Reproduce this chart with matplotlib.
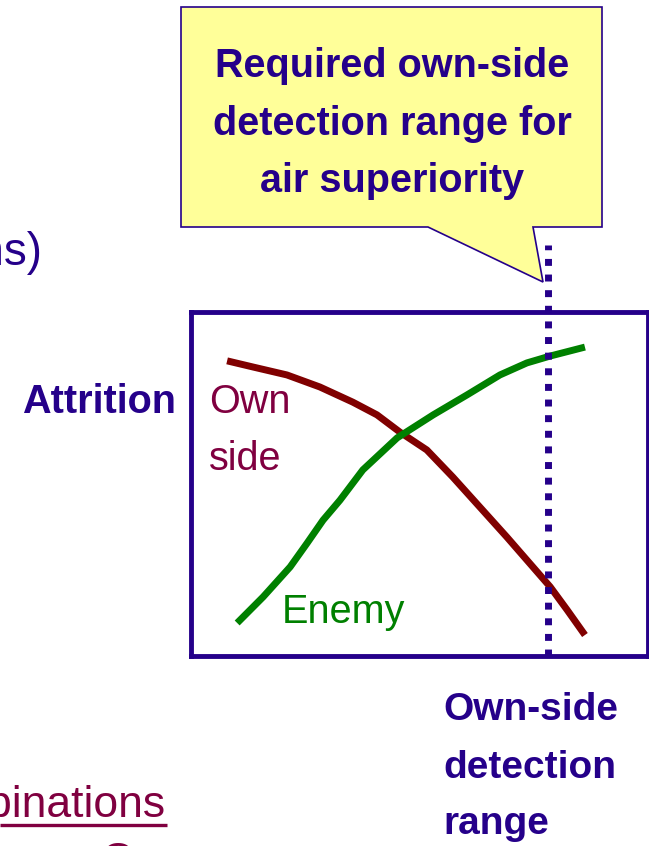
import matplotlib
matplotlib.use('Agg')
import matplotlib.pyplot as plt
from matplotlib.patches import Polygon

# Data: attrition vs own-side detection range (arbitrary 0-10 units)
own_range = [0.79, 1.36, 2.10, 2.82, 3.54, 4.07, 4.57, 5.16, 5.73, 6.32, 6.91, 7.48, 7.86, 8.23, 8.62]
own_attrition = [8.58, 8.40, 8.17, 7.82, 7.38, 7.01, 6.51, 5.99, 5.20, 4.33, 3.46, 2.59, 2.01, 1.34, 0.61]

enemy_range = [1.01, 1.58, 2.17, 2.54, 2.89, 3.26, 3.76, 4.51, 5.30, 6.04, 6.76, 7.35, 7.86, 8.62]
enemy_attrition = [0.96, 1.72, 2.59, 3.28, 3.95, 4.53, 5.41, 6.34, 7.01, 7.59, 8.17, 8.52, 8.72, 8.98]

required_range = 7.81

# Colours
indigo = '#25008a'
maroon = '#800000'
plum = '#800040'
green = '#008000'

font = ['Liberation Sans', 'DejaVu Sans']
big = 28.5

fig = plt.figure(figsize=(6.49, 8.46), dpi=100)

# overlay for annotations in pixel units
over = fig.add_axes([0, 0, 1, 1])
over.set_xlim(0, 649)
over.set_ylim(846, 0)
over.axis('off')

# boxed chart
ax = fig.add_axes([191 / 649, 190 / 846, 457 / 649, 344 / 846])
ax.set_facecolor('none')
ax.set_xlim(0, 10)
ax.set_ylim(0, 10)
ax.set_xticks([])
ax.set_yticks([])
for s in ax.spines.values():
    s.set_color(indigo)
    s.set_linewidth(3.5)

ax.plot(own_range, own_attrition, color=maroon, lw=5, solid_capstyle='butt', solid_joinstyle='round')
ax.plot(enemy_range, enemy_attrition, color=green, lw=5, solid_capstyle='butt', solid_joinstyle='round')
ax.plot([required_range, required_range], [0, 11.95], color=indigo, lw=5,
        dashes=(1, 1.25), dash_capstyle='butt', clip_on=False, zorder=5)

# callout
callout = Polygon([(181, 7), (602, 7), (602, 227), (533, 227), (543, 282), (428, 227), (181, 227)],
                  closed=True, facecolor='#ffff99', edgecolor=indigo, lw=1.2)
over.add_patch(callout)
for txt, y in [('Required own-side', 77), ('detection range for', 135), ('air superiority', 192)]:
    over.text(392, y, txt, color=indigo, fontsize=big, family=font,
              weight='bold', ha='center', va='baseline')

over.text(176, 413, 'Attrition', color=indigo, fontsize=big, family=font,
          weight='bold', ha='right', va='baseline')
over.text(209, 413, 'Own', color=plum, fontsize=big, family=font, va='baseline')
over.text(209, 470, 'side', color=plum, fontsize=big, family=font, va='baseline')
over.text(282, 623, 'Enemy', color=green, fontsize=big, family=font, va='baseline')

for txt, y in [('Own-side', 720), ('detection', 778), ('range', 834)]:
    over.text(443, y, txt, color=indigo, fontsize=28, family=font,
              weight='bold', ha='left', va='baseline')

# cut-off text from the surrounding slide
over.text(42, 265, 'ons)', color=indigo, fontsize=33, family=font,
          ha='right', va='baseline')
over.text(165, 817, 'combinations', color=plum, fontsize=32, family=font,
          ha='right', va='baseline')
over.plot([0, 167], [825, 825], color=plum, lw=2.4, solid_capstyle='butt')
over.text(101, 874, 'C', color=plum, fontsize=32, family=font, ha='left', va='baseline')

fig.savefig('out.png', dpi=100)
